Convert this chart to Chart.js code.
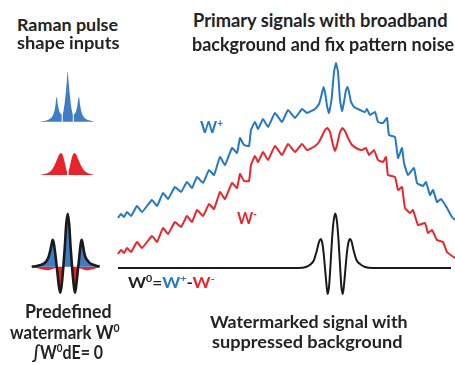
<!DOCTYPE html>
<html>
<head>
<meta charset="utf-8">
<script src="https://cdn.jsdelivr.net/npm/chart.js@4.4.1/dist/chart.umd.min.js"></script>
<style>
  html, body { margin: 0; padding: 0; background: #fff; }
  #stage { position: relative; width: 455px; height: 365px; overflow: hidden;
           font-family: Lato, 'Open Sans', sans-serif; font-weight: 700; color: #232323; }
  #stage canvas { position: absolute; }
  .t { position: absolute; white-space: nowrap; line-height: 1; transform-origin: 0 0; }
  .t sup { font-size: 0.62em; vertical-align: 0; position: relative; top: -0.55em; line-height: 0; }
  .blue { color: #2778c4; }
  .red { color: #e8262e; }
</style>
</head>
<body>
<div id="stage">
  <canvas id="pulse-plus" width="58" height="55" style="left:38px;top:68px"></canvas>
  <canvas id="pulse-minus" width="58" height="32" style="left:38px;top:145px"></canvas>
  <canvas id="watermark" width="78" height="92" style="left:28px;top:208px"></canvas>
  <canvas id="spectra" width="345" height="270" style="left:110px;top:40px"></canvas>

  <!-- left, baseline, target width, font size -->
  <div class="t" data-l="17" data-b="31" data-w="101" data-fs="17">Raman pulse</div>
  <div class="t" data-l="17" data-b="49" data-w="103" data-fs="17">shape inputs</div>
  <div class="t" data-l="193" data-b="27" data-w="255" data-fs="19">Primary signals with broadband</div>
  <div class="t" data-l="192" data-b="50.5" data-w="262" data-fs="19">background and fix pattern noise</div>
  <div class="t blue" data-l="200" data-b="133" data-w="23" data-fs="17">W<sup>+</sup></div>
  <div class="t red" data-l="237" data-b="224" data-w="20" data-fs="17">W<sup>-</sup></div>
  <div class="t" data-l="128" data-b="288" data-w="87" data-fs="16">W<sup>0</sup>=<span class="blue">W<sup>+</sup></span>-<span class="red">W<sup>-</sup></span></div>
  <div class="t" data-l="25" data-b="317.5" data-w="87" data-fs="18">Predefined</div>
  <div class="t" data-l="10" data-b="338.5" data-w="110" data-fs="18">watermark W<sup>0</sup></div>
  <div class="t" data-l="32" data-b="358.5" data-w="71" data-fs="18">&#8747;W<sup>0</sup>dE= 0</div>
  <div class="t" data-l="210" data-b="328.5" data-w="198" data-fs="17">Watermarked signal with</div>
  <div class="t" data-l="212" data-b="348.5" data-w="191" data-fs="17">suppressed background</div>
</div>

<script>
// ---- primary spectra (x: energy channel, y: intensity, arbitrary units)
const wPlusX = [8,11,14,17,21,27,32,42,47,53,58,65,71,77,82,87,93,99,104,110,
  115,122,127,130,134,139,141,145,148,153,158,165,172,178,185,192,197,205,209,211.5,
  213.5,215.5,217,219,221.5,224,226,228,230,232,234,236,237.5,239,241,244,250,255,257,260,
  265,268,273,277,279,285,288,292,294,298,304,307,313,316,320,323,327,331,337,342,345];
const wPlusY = [92,96,93,98,94,104,98,110,104,117,111,123,118,128,122,133,127,140,135,153,
  145,162,157,172,165,164,180,188,181,191,183,197,188,200,192,201,197,201,206,215,
  223,215,204,197,210,238,247,238,210,199,208,220,223,218,208,203,200,198,201,195,
  198,188,187,192,175,173,152,162,147,135,142,127,124,128,115,120,108,111,102,93,90];

const wMinusX = [8,11,14,17,21,27,32,42,47,53,58,65,71,77,82,87,93,99,104,110,
  115,122,127,130,134,139,141,145,148,153,158,165,172,178,185,192,197,205,209,212,
  215,217.5,220,223,225,227,230,232.5,235,238,242,248,252,256,259,264,268,273,276,278,
  285,288,292,295,300,303,308,315,318,322,327,333,337,345];
const wMinusY = [56,60,57,62,58,68,62,74,68,82,76,88,83,94,88,100,94,106,101,118,
  111,127,122,136,129,129,145,154,148,158,150,164,155,166,158,166,160,164,168,174,
  180,182,178,165,159,165,178,182,179,172,165,161,160,162,155,160,150,148,153,135,
  133,120,123,102,97,100,85,87,77,80,70,68,58,52];

const w0X = [8,188,196,201,204,207,209,210.7,212.3,213.5,215,216.5,217.7,219,220.5,222,223.5,225.3,227,228.5,
  230,231.4,232.7,234,235.5,237,238.3,240,241.7,243.5,246.5,250,255,263,341];
const w0Y = [42,42,43,46,50,60,68,71,67,58,42,25,16,23,45,70,88,96.5,88,70,
  45,23,16,25,42,58,67,71,68,60,50,46,43,42,42];

// ---- Raman pulse shape inputs (x: offset from centre, y: amplitude)
const plusSideLX = [-28,-24,-20,-17,-15,-13.5,-12.3,-11,-9.8,-8.5,-7,-5.9];
const plusSideLY = [0,0.7,1.8,3.5,6,10,16,25,17,11,8,7];
const plusCentreX = [-5.2,-4,-3,-2,-1,0,1,2,3,4,5.2];
const plusCentreY = [7,12,19,28,39,50,39,28,19,12,7];
const plusSideRX = [5.9,7,8.5,9.8,11.2,12.5,13.7,15.2,17.2,20.2,24,26.3];
const plusSideRY = [7,8,11,17,25,16,10,6,3.5,1.8,0.7,0];

const minusLX = [-28,-23,-19,-16,-13,-10.5,-8.5,-6.7,-5,-3.3,-1.8,-0.7];
const minusLY = [0,1,2.5,5,10,16,20.5,22,20,14,7,3];
const minusRX = [0.7,1.8,3.3,5,6.6,8.5,10.5,13,16,19,23,26.3];
const minusRY = [3,7,14,20,22,20.5,16,10,5,2.5,1,0];

// ---- predefined watermark W0 = W+ - W-
const wmX = [-36,-32,-28,-24,-21,-19,-17.5,-16,-15,-14,-12.7,-11.5,-10.3,-9,-7.4,-6,-4.5,-3,-1.5,0,
  1.5,3,4.5,6,7.3,8.6,10,11.2,12.3,13.2,14,15,16.5,18,20,23,27,32];
const wmLine = [0,0.5,1.5,3,6,10,16,23,27,24,15,5,-6,-18,-26,-18,-2,18,42,53,
  42,18,-2,-18,-26,-18,-5,6,17,24,27,23,14,9,6,3,1.5,0];
const wmPos = [0,1,2.5,4.5,7,11,16,23,27,24,15,5,0,0,0,0,0,18,42,53,
  42,18,0,0,0,0,0,6,17,24,27,23,14,10,7,4.5,2,0];
const wmNeg = [0,-1,-2,-3,-3.5,-3.5,-3,-2.5,-2,-2,-1.5,-1,-6,-18,-26,-18,-2,0,0,0,
  0,0,-2,-18,-26,-18,-5,-1,-1.5,-2,-2,-2.5,-3,-3.5,-3.5,-3,-2,0];

const BLUE = '#2778c4', RED = '#e8262e', BLACK = '#1a1a1a';
const BLUE_FILL = '#3f7cc6', RED_FILL = '#e8232b';

function pts(xs, ys) {
  return xs.map((x, i) => ({ x: x, y: ys[i] }));
}

function baseOptions(xmin, xmax, ymin, ymax) {
  return {
    responsive: false,
    animation: false,
    events: [],
    layout: { padding: 0 },
    plugins: { legend: { display: false }, tooltip: { enabled: false } },
    elements: { point: { radius: 0 } },
    scales: {
      x: { type: 'linear', display: false, min: xmin, max: xmax },
      y: { type: 'linear', display: false, min: ymin, max: ymax }
    }
  };
}

function lineSet(xs, ys, color, width, tension) {
  const ds = {
    data: pts(xs, ys), borderColor: color, borderWidth: width,
    fill: false, clip: false, borderJoinStyle: 'round'
  };
  if (tension === undefined) ds.cubicInterpolationMode = 'monotone';
  else ds.tension = tension;
  return ds;
}

function fillSet(xs, ys, color) {
  return {
    data: pts(xs, ys), borderColor: 'rgba(0,0,0,0)', borderWidth: 0.1,
    backgroundColor: color, cubicInterpolationMode: 'monotone', fill: 'origin', clip: false
  };
}

// main panel
new Chart(document.getElementById('spectra'), {
  type: 'line',
  data: { datasets: [
    lineSet(w0X, w0Y, BLACK, 2),
    lineSet(wPlusX, wPlusY, BLUE, 2, 0.12),
    lineSet(wMinusX, wMinusY, RED, 2, 0.12)
  ] },
  options: baseOptions(0, 345, 0, 270)
});

// blue pulse input (three lines)
new Chart(document.getElementById('pulse-plus'), {
  type: 'line',
  data: { datasets: [
    fillSet(plusSideLX, plusSideLY, BLUE_FILL),
    fillSet(plusCentreX, plusCentreY, BLUE_FILL),
    fillSet(plusSideRX, plusSideRY, BLUE_FILL)
  ] },
  options: baseOptions(-29.7, 28.3, -1.3, 53.7)
});

// red pulse input (two lines)
new Chart(document.getElementById('pulse-minus'), {
  type: 'line',
  data: { datasets: [
    fillSet(minusLX, minusLY, RED_FILL),
    fillSet(minusRX, minusRY, RED_FILL)
  ] },
  options: baseOptions(-29.7, 28.3, -2, 30)
});

// watermark: black outline on top of blue/red lobes
new Chart(document.getElementById('watermark'), {
  type: 'line',
  data: { datasets: [
    lineSet(wmX, wmLine, BLACK, 2.6),
    fillSet(wmX, wmPos, BLUE_FILL),
    fillSet(wmX, wmNeg, RED_FILL)
  ] },
  options: baseOptions(-39.7, 38.3, -33.3, 58.7)
});

// place text lines by baseline and squeeze them to the measured widths
function placeText() {
  document.querySelectorAll('.t').forEach(el => {
    const fs = +el.dataset.fs;
    el.style.fontSize = fs + 'px';
    el.style.left = el.dataset.l + 'px';
    el.style.top = (el.dataset.b - 0.887 * fs) + 'px';
    const w = el.offsetWidth; // untransformed width
    if (w > 0) el.style.transform = 'scaleX(' + (el.dataset.w / w) + ')';
  });
}
placeText();
if (document.fonts && document.fonts.ready) document.fonts.ready.then(placeText);
</script>
</body>
</html>
